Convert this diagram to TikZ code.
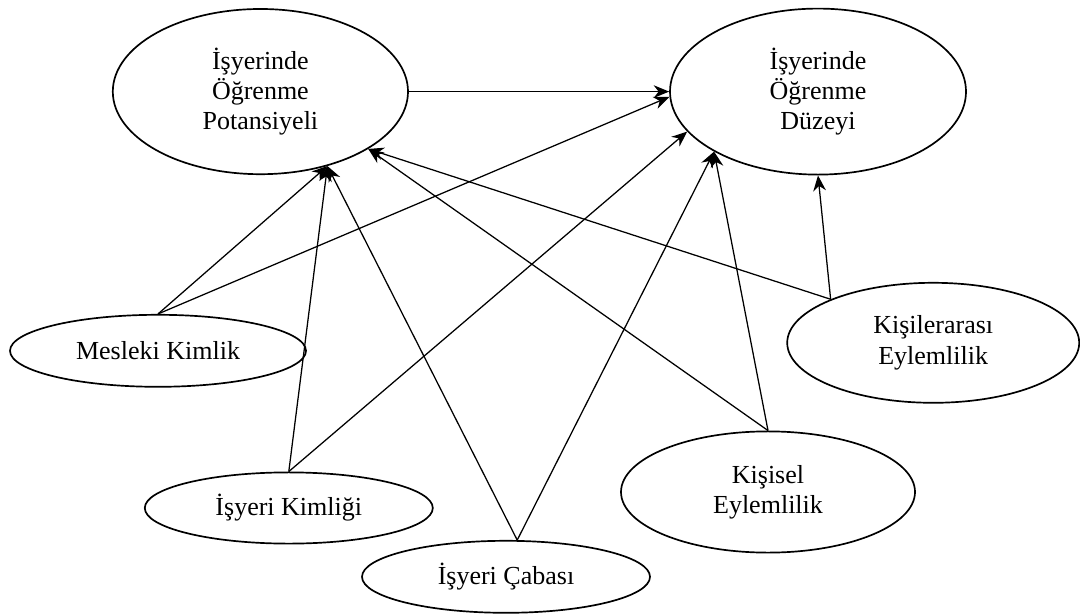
\documentclass[tikz,border=0pt]{standalone}
\usepackage{fontspec}
\setmainfont{Liberation Serif}
\usetikzlibrary{arrows.meta,shapes.geometric}
\tikzset{
    kavram/.style={draw, ellipse, line width=1.2pt, inner sep=0pt, align=center,
        font=\fontsize{18.5}{21.5}\selectfont},
    etki/.style={-{Stealth[length=11pt,width=9pt,inset=3.5pt]}, line width=0.9pt}
}

\begin{document}
\begin{tikzpicture}
    \useasboundingbox (0,0) rectangle (27,15.35);
    % kavramlar
    \node[kavram, minimum width=7.38cm, minimum height=4.13cm] (potansiyel) at (6.51,13.06) {İşyerinde\\Öğrenme\\Potansiyeli};
    \node[kavram, minimum width=7.4cm, minimum height=4.15cm] (duzey) at (20.45,13.06) {İşyerinde\\Öğrenme\\Düzeyi};
    \node[kavram, minimum width=7.4cm, minimum height=1.8cm] (mesleki) at (3.95,6.58) {Mesleki Kimlik};
    \node[kavram, minimum width=7.3cm, minimum height=3cm] (kisilerarasi) at (23.33,6.78) {Kişilerarası\\Eylemlilik};
    \node[kavram, minimum width=7.35cm, minimum height=3.03cm] (kisisel) at (19.2,3.05) {Kişisel\\Eylemlilik};
    \node[kavram, minimum width=7.2cm, minimum height=1.78cm] (kimlik) at (7.22,2.65) {İşyeri Kimliği};
    \node[kavram, minimum width=7.2cm, minimum height=1.8cm] (caba) at (12.65,0.93) {İşyeri Çabası};
    % oklar
    \draw[etki] (potansiyel.east) -- (duzey.west);
    \draw[etki] (mesleki.north) -- (potansiyel.-48);
    \draw[etki] (mesleki.north) -- (duzey.-178);
    \draw[etki] (kimlik.north) -- (potansiyel.-48);
    \draw[etki] (kimlik.north) -- (duzey.-163);
    \draw[etki] (caba.73) -- (potansiyel.-48);
    \draw[etki] (caba.73) -- (duzey.-150);
    \draw[etki] (kisisel.north) -- (potansiyel.-28.5);
    \draw[etki] (kisisel.north) -- (duzey.-150);
    \draw[etki] (kisilerarasi.157) -- (potansiyel.-28.5);
    \draw[etki] (kisilerarasi.157) -- (duzey.south);
\end{tikzpicture}
\end{document}
